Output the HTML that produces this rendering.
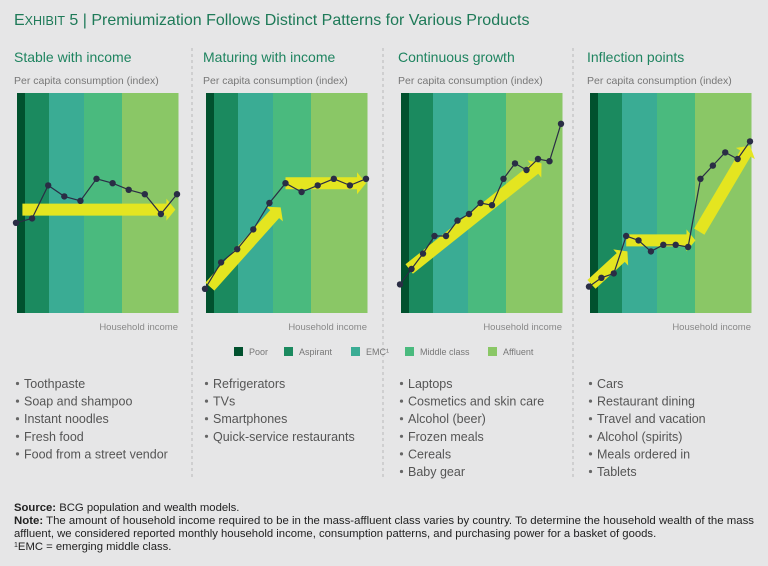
<!DOCTYPE html>
<html><head><meta charset="utf-8">
<style>
html,body{margin:0;padding:0;background:#e6e6e7;}
svg{display:block;font-family:"Liberation Sans",sans-serif;}
</style></head>
<body>
<svg id="chart" width="768" height="566" viewBox="0 0 768 566">
<rect x="0" y="0" width="768" height="566" fill="#e6e6e7"/>
<text x="14" y="25" font-size="16" fill="#1e7a58"><tspan font-size="16">E</tspan><tspan font-size="12.5">XHIBIT</tspan> 5 | Premiumization Follows Distinct Patterns for Various Products</text>
<g id="panels"></g>
<g id="legend"></g>
<g id="footnotes" font-size="11.3" fill="#222">
<text x="14" y="511"><tspan font-weight="bold">Source:</tspan> BCG population and wealth models.</text>
<text x="14" y="524" textLength="740" lengthAdjust="spacingAndGlyphs"><tspan font-weight="bold">Note:</tspan> The amount of household income required to be in the mass-affluent class varies by country. To determine the household wealth of the mass</text>
<text x="14" y="537">affluent, we considered reported monthly household income, consumption patterns, and purchasing power for a basket of goods.</text>
<text x="14" y="550"><tspan font-size="7" dy="-3">1</tspan><tspan dy="3">EMC = emerging middle class.</tspan></text>
</g>
</svg>
<script>
// ---- data ----
const panelTitles = ["Stable with income","Maturing with income","Continuous growth","Inflection points"];
const series1 = [41,43,58,53,51,61,59,56,54,45,54];
const series2 = [11,23,29,38,50,59,55,58,61,58,61];
const series3 = [13,20,27,35,35,42,45,50,49,61,68,65,70,69,86];
const series4 = [12,16,18,35,33,28,31,31,30,61,67,73,70,78];
const productLists = [
  ["Toothpaste","Soap and shampoo","Instant noodles","Fresh food","Food from a street vendor"],
  ["Refrigerators","TVs","Smartphones","Quick-service restaurants"],
  ["Laptops","Cosmetics and skin care","Alcohol (beer)","Frozen meals","Cereals","Baby gear"],
  ["Cars","Restaurant dining","Travel and vacation","Alcohol (spirits)","Meals ordered in","Tablets"]
];
const segments = ["Poor","Aspirant","EMC","Middle class","Affluent"];
const segmentShare = [8,24,35,38,56]; // relative band widths
// trend arrows: [fromIndex, fromValue, toIndex, toValue]
const arrows1 = [[0.4,47,9.9,47]];
const arrows2 = [[0.3,12,4.7,48],[5,59,10,59]];
const arrows3 = [[0.8,20,12.3,68]];
const arrows4 = [[0.2,13,3.1,28],[3,33,8.6,33],[8.9,37,13,76]];

const allSeries=[series1,series2,series3,series4];
const allArrows=[arrows1,arrows2,arrows3,arrows4];
const colors=["#01512e","#1b8a5f","#3aac94","#4aba7e","#8ac766"];
const NS="http://www.w3.org/2000/svg";
function mk(tag,attrs,parent){const e=document.createElementNS(NS,tag);for(const k in attrs)e.setAttribute(k,attrs[k]);parent.appendChild(e);return e;}
const panelsG=document.getElementById('panels');
const panelX=[17,206,401,590], PW=161, PT=93, PH=220;

for(let p=0;p<4;p++){
  const g=mk('g',{},panelsG);
  
  
  const x0=panelX[p];
  const t=mk('text',{x:x0-3,y:62,'font-size':14,fill:'#1f8460'},g);
  t.textContent=panelTitles[p];
  
  
  const st=mk('text',{x:x0-3,y:84,'font-size':10.5,fill:'#777'},g);
  st.textContent="Per capita consumption (index)";
  
  
  const tot=segmentShare.reduce((a,b)=>a+b,0);
  let bx=x0;
  segmentShare.forEach((s,i)=>{
    const w=s/tot*PW;
    const r=mk('rect',{x:bx,y:PT,width:w+0.5,height:PH,fill:colors[i]},g);
    
    
    bx+=w;
  });
  const xl=mk('text',{x:x0+PW,y:330,'font-size':9.5,fill:'#888','text-anchor':'end'},g);
  xl.textContent="Household income";
  
  
  const s=allSeries[p];
  const xs=i=>x0-1+i*(PW)/(s.length-1);
  const ys=v=>PT+PH-v*PH/100;
  allArrows[p].forEach(a=>{
    const X1=xs(a[0]),Y1=ys(a[1]),X2=xs(a[2]),Y2=ys(a[3]);
    const dx=X2-X1,dy=Y2-Y1,L=Math.hypot(dx,dy),ux=dx/L,uy=dy/L,nx=-uy,ny=ux;
    const hw=6,hh=11,hl=9;
    const bxp=X2-ux*hl,byp=Y2-uy*hl;
    const pts=[[X1+nx*hw,Y1+ny*hw],[bxp+nx*hw,byp+ny*hw],[bxp+nx*hh,byp+ny*hh],[X2,Y2],[bxp-nx*hh,byp-ny*hh],[bxp-nx*hw,byp-ny*hw],[X1-nx*hw,Y1-ny*hw]];
    const ar=mk('polygon',{points:pts.map(q=>q[0].toFixed(1)+','+q[1].toFixed(1)).join(' '),fill:'#e4e520'},g);
    
    
  });
  const ln=mk('polyline',{points:s.map((v,i)=>xs(i).toFixed(1)+','+ys(v).toFixed(1)).join(' '),fill:'none',stroke:'#2a2d45','stroke-width':1.2},g);
  
  
  s.forEach((v,i)=>{
    const c=mk('circle',{cx:xs(i),cy:ys(v),r:3.2,fill:'#2a2d45'},g);
    
    
  });
  productLists[p].forEach((item,i)=>{
    const y=388+i*17.6;
    const b=mk('circle',{cx:x0+0.5,cy:y-4.5,r:1.6,fill:'#666'},g);
    
    
    const tx=mk('text',{x:x0+7,y:y,'font-size':12.5,fill:'#555'},g);
    tx.textContent=item;
    
    
  });
  if(p<3){
    const sx=[192,383,573][p];
    const d=mk('line',{x1:sx,y1:48,x2:sx,y2:480,stroke:'#b8b8b8','stroke-width':1,'stroke-dasharray':'3,3'},g);
    
    
  }
}
const lg=document.getElementById('legend');
const legX=[234,284,351,405,488];
segments.forEach((sname,i)=>{
  const r=mk('rect',{x:legX[i],y:347,width:9,height:9,fill:colors[i]},lg);
  
  
  const t=mk('text',{x:legX[i]+15,y:355,'font-size':9,fill:'#777'},lg);
  t.textContent=sname+(sname==="EMC"?"¹":"");
  
  
});
</script>
</body></html>
